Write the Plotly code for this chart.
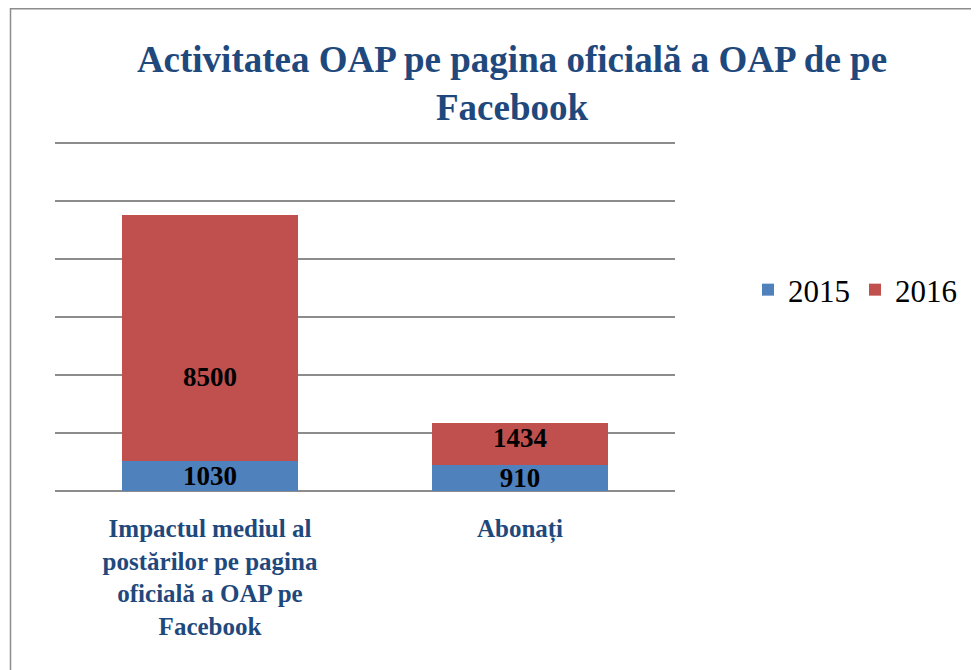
import plotly.graph_objects as go

categories = ["Impactul mediul al<br>postărilor pe pagina<br>oficială a OAP pe<br>Facebook", "Abonați"]
series_names = ["2015", "2016"]
values_2015 = [1030, 910]
values_2016 = [8500, 1434]
colors = ["#4F81BD", "#C0504D"]

# relative vertical position of the 2016 labels inside their segment (style)
label_pos_2016 = [0.34, 0.64]

SERIF = "'Liberation Serif', 'Times New Roman', Times, serif"
label_font = dict(family=SERIF, size=27, color="black", weight="bold")

# page is offset by the 8px body margin
W, H = 971, 662
L, R, T, B = 47, 304, 121, 179
pw, ph = W - L - R, H - T - B

fig = go.Figure()
fig.add_trace(go.Bar(
    x=categories, y=values_2015, name=series_names[0],
    marker=dict(color=colors[0], line=dict(width=0)),
    text=[str(v) for v in values_2015], textposition="inside", insidetextanchor="middle",
    textfont=label_font, textangle=0, constraintext="none",
))
fig.add_trace(go.Bar(
    x=categories, y=values_2016, name=series_names[1],
    marker=dict(color=colors[1], line=dict(width=0)),
))

annotations = []
for cat, base, val, pos in zip(categories, values_2015, values_2016, label_pos_2016):
    annotations.append(dict(x=cat, y=base + val * pos, xref="x", yref="y", text=str(val),
                            showarrow=False, font=label_font, xanchor="center", yanchor="middle"))

def px_x(p):
    return (p - L) / pw
def px_y(p):
    return (H - B - p) / ph

fig.update_layout(
    width=W, height=H,
    barmode="stack", bargap=0.43,
    margin=dict(l=L, r=R, t=T, b=B),
    paper_bgcolor="white", plot_bgcolor="white",
    title=dict(text="Activitatea OAP pe pagina oficială a OAP de pe<br>Facebook",
               x=504 / W, xanchor="center", y=1 - 64 / H, yanchor="top", yref="container",
               font=dict(family=SERIF, size=37, color="#1F497D", weight="bold")),
    xaxis=dict(showline=False, ticks="", tickangle=0, ticklabelstandoff=20,
               tickfont=dict(family=SERIF, size=25, color="#1F497D", weight="bold")),
    yaxis=dict(range=[0, 12500], dtick=2000, showticklabels=False, showgrid=True,
               gridcolor="#8C8C8C", gridwidth=2, zeroline=True, zerolinecolor="#8C8C8C", zerolinewidth=2),
    legend=dict(orientation="h", traceorder="normal", x=px_x(740), xanchor="left", y=px_y(282), yanchor="middle",
                font=dict(family=SERIF, size=31, color="black")),
    annotations=annotations,
    shapes=[
        dict(type="line", xref="paper", yref="paper", x0=px_x(2), x1=px_x(990), y0=px_y(0.8), y1=px_y(0.8),
             line=dict(color="#8C8C8C", width=1.5)),
        dict(type="line", xref="paper", yref="paper", x0=px_x(2.5), x1=px_x(2.5), y0=px_y(0), y1=px_y(700),
             line=dict(color="#8C8C8C", width=1.5)),
    ],
)

fig.write_html("out.html")
